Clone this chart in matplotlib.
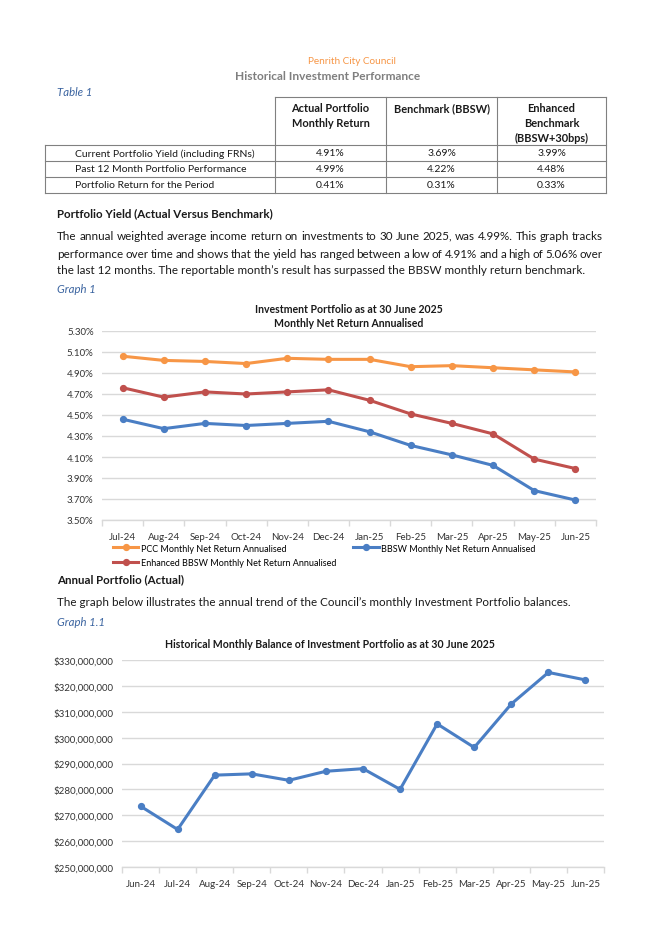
import matplotlib
matplotlib.use("Agg")
import matplotlib.pyplot as plt
from matplotlib.ticker import FuncFormatter, FixedLocator, MultipleLocator
import numpy as np

plt.rcParams['font.family'] = ['Lato', 'DejaVu Sans']

# table 1
table_cols = ["Actual Portfolio\nMonthly Return", "Benchmark (BBSW)", "Enhanced\nBenchmark\n(BBSW+30bps)"]
table_rows = ["Current Portfolio Yield (including FRNs)",
              "Past 12 Month Portfolio Performance",
              "Portfolio Return for the Period"]
table_vals = [["4.91%", "3.69%", "3.99%"],
              ["4.99%", "4.22%", "4.48%"],
              ["0.41%", "0.31%", "0.33%"]]

# graph 1 - monthly net return annualised (%)
months1 = ["Jul-24", "Aug-24", "Sep-24", "Oct-24", "Nov-24", "Dec-24",
           "Jan-25", "Feb-25", "Mar-25", "Apr-25", "May-25", "Jun-25"]
pcc = [5.06, 5.02, 5.01, 4.99, 5.04, 5.03, 5.03, 4.96, 4.97, 4.95, 4.93, 4.91]
bbsw = [4.46, 4.37, 4.42, 4.40, 4.42, 4.44, 4.34, 4.21, 4.12, 4.02, 3.78, 3.69]
enhanced = [4.76, 4.67, 4.72, 4.70, 4.72, 4.74, 4.64, 4.51, 4.42, 4.32, 4.08, 3.99]

# graph 1.1 - portfolio balance ($)
months2 = ["Jun-24", "Jul-24", "Aug-24", "Sep-24", "Oct-24", "Nov-24", "Dec-24",
           "Jan-25", "Feb-25", "Mar-25", "Apr-25", "May-25", "Jun-25"]
balance = [273.5e6, 264.5e6, 285.5e6, 286.0e6, 283.5e6, 287.0e6, 288.0e6,
           280.0e6, 305.3e6, 296.2e6, 313.0e6, 325.2e6, 322.3e6]

ORANGE = "#F79646"
RED = "#C0504D"
BLUE = "#4A7EC4"
TXT = "#1a1a1a"
CAPTION = "#3B64A0"
GRID = "#D9D9D9"

W, H = 656, 928
fig = plt.figure(figsize=(W / 100, H / 100), dpi=100)

# page layer in pixel coords
page = fig.add_axes([0, 0, 1, 1])
page.set_xlim(0, W)
page.set_ylim(H, 0)
page.axis("off")

page.text(352, 62, "Penrith City Council", color=ORANGE, fontsize=7.2, ha="center", va="center")
page.text(328, 77, "Historical Investment Performance", color="#7F7F7F", fontsize=8.6,
          ha="center", va="center", fontweight="bold")
page.text(57, 92, "Table 1", color=CAPTION, fontsize=8.2, style="italic", va="center")

# table grid
cols_x = [45, 275, 386, 497, 606]
rows_y = [98, 146, 162, 178, 194]
lc = dict(color="#808080", lw=0.8)
page.plot([cols_x[1], cols_x[-1]], [rows_y[0]] * 2, **lc)
for y in rows_y[1:]:
    page.plot([cols_x[0], cols_x[-1]], [y, y], **lc)
for x in cols_x[1:]:
    page.plot([x, x], [rows_y[0], rows_y[-1]], **lc)
page.plot([cols_x[0]] * 2, [rows_y[1], rows_y[-1]], **lc)

for i, head in enumerate(table_cols):
    cx = (cols_x[i + 1] + cols_x[i + 2]) / 2
    page.text(cx, 103, head, fontsize=7.9, fontweight="bold", ha="center", va="top",
              linespacing=1.45, color=TXT)
for r, lab in enumerate(table_rows):
    cy = (rows_y[r + 1] + rows_y[r + 2]) / 2
    page.text(75, cy, lab, fontsize=7.5, va="center", color=TXT)
    for c, v in enumerate(table_vals[r]):
        cx = (cols_x[c + 1] + cols_x[c + 2]) / 2
        page.text(cx, cy, v, fontsize=7.5, va="center", ha="center", color=TXT)

renderer = fig.canvas.get_renderer()


def justify(line, y, x0, x1, **kw):
    words = line.split()
    arts = [page.text(0, y, w, va="center", **kw) for w in words]
    widths = [a.get_window_extent(renderer).width for a in arts]
    gap = (x1 - x0 - sum(widths)) / (len(words) - 1)
    x = x0
    for a, w in zip(arts, widths):
        a.set_x(x)
        x += w + gap


body = dict(fontsize=8.35, color=TXT)
page.text(57, 214, "Portfolio Yield (Actual Versus Benchmark)", fontsize=8.3,
          fontweight="bold", va="center", color=TXT)
justify("The annual weighted average income return on investments to 30 June 2025, was 4.99%. This graph tracks",
        236, 57, 603, **body)
justify("performance over time and shows that the yield has ranged between a low of 4.91% and a high of 5.06% over",
        254, 57, 603, **body)
page.text(57, 271, "the last 12 months. The reportable month\u2019s result has surpassed the BBSW monthly return benchmark.",
          va="center", **body)
page.text(57, 290, "Graph 1", color=CAPTION, fontsize=8.2, style="italic", va="center")

page.text(349, 310, "Investment Portfolio as at 30 June 2025", fontsize=7.6, fontweight="bold",
          ha="center", va="center", color=TXT)
page.text(349, 324, "Monthly Net Return Annualised", fontsize=7.6, fontweight="bold",
          ha="center", va="center", color=TXT)

page.text(57, 580, "Annual Portfolio (Actual)", fontsize=8.3, fontweight="bold", va="center", color=TXT)
page.text(57, 603, "The graph below illustrates the annual trend of the Council\u2019s monthly Investment Portfolio balances.",
          va="center", **body)
page.text(57, 623, "Graph 1.1", color=CAPTION, fontsize=8.2, style="italic", va="center")
page.text(330, 645, "Historical Monthly Balance of Investment Portfolio as at 30 June 2025", fontsize=7.6,
          fontweight="bold", ha="center", va="center", color=TXT)


def style_axis(ax, n):
    ax.set_xlim(-0.5, n - 0.5)
    for s in ["top", "right", "left"]:
        ax.spines[s].set_visible(False)
    ax.spines["bottom"].set_color(GRID)
    ax.spines["bottom"].set_linewidth(1.0)
    ax.grid(axis="y", color=GRID, lw=1.0)
    ax.set_axisbelow(True)
    ax.set_xticks(range(n))
    ax.xaxis.set_minor_locator(FixedLocator(np.arange(-0.5, n, 1.0)))
    ax.tick_params(axis="x", which="major", length=0, pad=9, labelsize=7.0, labelcolor="#333333")
    ax.tick_params(axis="x", which="minor", length=4, color=GRID, width=1.0)
    ax.tick_params(axis="y", length=0, labelsize=7.0, labelcolor="#333333")


# graph 1
ax1 = fig.add_axes([102 / W, 1 - 521 / H, 494 / W, 189 / H])
x1 = np.arange(len(months1))
mk = dict(lw=2.2, marker="o", markersize=4.2)
h_pcc, = ax1.plot(x1, pcc, color=ORANGE, label="PCC Monthly Net Return Annualised", **mk)
h_enh, = ax1.plot(x1, enhanced, color=RED, label="Enhanced BBSW Monthly Net Return Annualised", **mk)
h_bb, = ax1.plot(x1, bbsw, color=BLUE, label="BBSW Monthly Net Return Annualised", **mk)
style_axis(ax1, len(months1))
ax1.set_ylim(3.5, 5.3)
ax1.yaxis.set_major_locator(FixedLocator(np.round(np.arange(3.5, 5.31, 0.2), 2)))
ax1.yaxis.set_major_formatter(FuncFormatter(lambda v, p: f"{v:.2f}%"))
ax1.tick_params(axis="y", pad=6)
ax1.set_xticklabels(months1)
ax1.legend(handles=[h_pcc, h_enh, h_bb], ncol=2, loc="upper left",
           bbox_to_anchor=(0.022, -0.125), frameon=False, fontsize=6.5,
           handlelength=2.8, handletextpad=0.3, columnspacing=1.9,
           borderpad=0, borderaxespad=0, labelspacing=0.6)

# graph 1.1
ax2 = fig.add_axes([122 / W, 1 - 868 / H, 482 / W, 207 / H])
x2 = np.arange(len(months2))
ax2.plot(x2, balance, color=BLUE, **mk)
style_axis(ax2, len(months2))
ax2.set_ylim(250e6, 330e6)
ax2.yaxis.set_major_locator(MultipleLocator(10e6))
ax2.yaxis.set_major_formatter(FuncFormatter(lambda v, p: f"${v:,.0f}"))
ax2.tick_params(axis="y", pad=6)
ax2.set_xticklabels(months2)

fig.savefig("out.png", dpi=100)
